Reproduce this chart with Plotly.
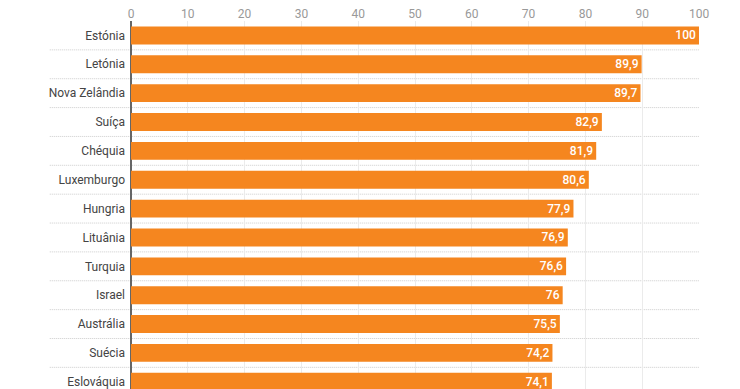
import plotly.graph_objects as go

countries = ["Estónia", "Letónia", "Nova Zelândia", "Suíça", "Chéquia", "Luxemburgo",
             "Hungria", "Lituânia", "Turquia", "Israel", "Austrália", "Suécia", "Eslováquia"]
values = [100, 89.9, 89.7, 82.9, 81.9, 80.6, 77.9, 76.9, 76.6, 76, 75.5, 74.2, 74.1]
tick_vals = [0, 10, 20, 30, 40, 50, 60, 70, 80, 90, 100]

labels = [("%g" % v).replace(".", ",") for v in values]
n = len(countries)

fig = go.Figure(go.Bar(
    x=values, y=list(range(n)), orientation="h",
    marker=dict(color="#F5861F", line=dict(width=0)),
    width=0.62,
    text=labels, textposition="inside", insidetextanchor="end",
    textangle=0, constraintext="none",
    textfont=dict(color="white", size=12, family="Roboto", weight=500),
    cliponaxis=False,
))

shapes = []
for i in range(n - 1):
    shapes.append(dict(type="line", xref="paper", yref="y",
                       x0=-0.143, x1=1, y0=i + 0.5, y1=i + 0.5,
                       line=dict(color="#cccccc", width=1, dash="1px,1px"), layer="below"))
fig.update_layout(shapes=shapes)

fig.update_layout(
    width=732, height=381,
    margin=dict(l=123, r=41, t=13, b=0),
    paper_bgcolor="white", plot_bgcolor="white",
    font=dict(family="Roboto", size=12, color="#444"),
    showlegend=False,
    uniformtext=dict(mode=False),
    xaxis=dict(side="top", range=[0, 100], tickvals=tick_vals,
               tickfont=dict(color="#999", size=12),
               showgrid=True, gridcolor="#ebebeb", gridwidth=1,
               zeroline=True, zerolinecolor="#666", zerolinewidth=2,
               ticks="", fixedrange=True, automargin=False),
    yaxis=dict(range=[12.25, -0.5], tickvals=list(range(n)), ticktext=countries,
               tickfont=dict(color="#444", size=12),
               showgrid=False, zeroline=False, ticks="", ticklabelstandoff=5,
               automargin=False),
)

fig.write_html("out.html")
